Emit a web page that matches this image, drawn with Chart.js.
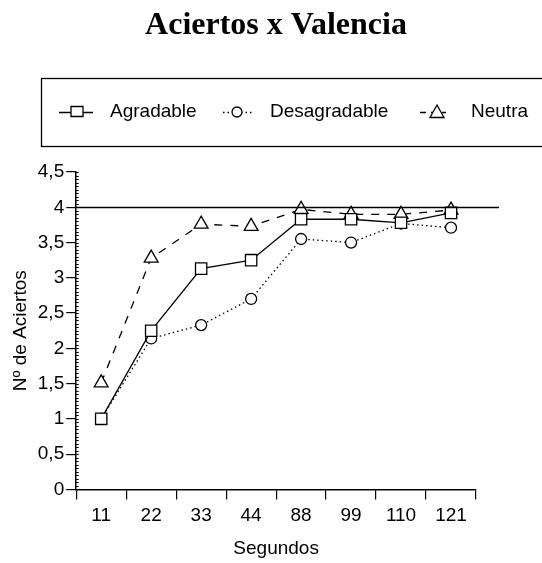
<!DOCTYPE html>
<html>
<head>
<meta charset="utf-8">
<script src="https://cdn.jsdelivr.net/npm/chart.js@4.4.1/dist/chart.umd.min.js"></script>
<style>
  html, body { margin: 0; padding: 0; background: #fff; }
  #wrap { width: 542px; height: 563px; position: relative; }
</style>
</head>
<body>
<div id="wrap"><canvas id="chart" width="542" height="563"></canvas></div>
<script>
  const segundos = ['11', '22', '33', '44', '88', '99', '110', '121'];
  const agradable = [1.0, 2.25, 3.13, 3.25, 3.83, 3.83, 3.78, 3.92];
  const desagradable = [1.0, 2.14, 2.33, 2.70, 3.55, 3.50, 3.77, 3.71];
  const neutra = [1.51, 3.28, 3.76, 3.73, 3.97, 3.90, 3.90, 3.96];
  const referencia = 4;
  const nombres = ['Agradable', 'Desagradable', 'Neutra'];
  const titulo = 'Aciertos x Valencia';

  const FONT = 'Liberation Sans';

  // legend drawn by hand: line sample + marker + name, inside a framed box
  function drawLegend(ctx) {
    ctx.save();
    ctx.strokeStyle = '#000';
    ctx.fillStyle = '#000';
    ctx.lineWidth = 1.3;
    ctx.strokeRect(41.5, 78.5, 520, 68);

    const cy = 112;
    const items = [
      { x0: 59, x1: 93, mx: 77, style: 'rect', dash: [] },
      { x0: 223, x1: 254, mx: 237, style: 'circle', dash: [1.5, 3] },
      { x0: 420, x1: 446, mx: 437, style: 'triangle', dash: [6, 5] }
    ];
    const textX = [110, 270, 471];
    items.forEach((it, i) => {
      ctx.setLineDash(it.dash);
      ctx.beginPath(); ctx.moveTo(it.x0, cy + 0.5); ctx.lineTo(it.x1, cy + 0.5); ctx.stroke();
      ctx.setLineDash([]);
      ctx.fillStyle = '#fff';
      ctx.beginPath();
      if (it.style === 'rect') ctx.rect(it.mx - 6, cy - 5.5, 12, 10);
      else if (it.style === 'circle') ctx.arc(it.mx, cy, 5, 0, Math.PI * 2);
      else { ctx.moveTo(it.mx, cy - 7); ctx.lineTo(it.mx + 7, cy + 5.5); ctx.lineTo(it.mx - 7, cy + 5.5); ctx.closePath(); }
      ctx.fill(); ctx.stroke();
      ctx.fillStyle = '#000';
      ctx.font = '19px "' + FONT + '"';
      ctx.textBaseline = 'middle';
      ctx.textAlign = 'left';
      ctx.fillText(nombres[i], textX[i], cy);
    });
    ctx.restore();
  }

  const extras = {
    id: 'extras',
    afterDraw(chart) {
      const ctx = chart.ctx;
      const y = chart.scales.y;
      const area = chart.chartArea;
      ctx.save();
      // title, centred on the page rather than on the plot
      ctx.fillStyle = '#000';
      ctx.font = 'bold 32px "Liberation Serif"';
      ctx.textAlign = 'center';
      ctx.textBaseline = 'alphabetic';
      ctx.fillText(titulo, 276, 34);
      // reference line at 4
      ctx.strokeStyle = '#000';
      ctx.lineWidth = 1.4;
      const py = Math.round(y.getPixelForValue(referencia)) + 0.5;
      ctx.beginPath(); ctx.moveTo(area.left, py); ctx.lineTo(area.right + 23, py); ctx.stroke();
      // minor ticks along the y axis
      ctx.lineWidth = 1;
      for (let k = 0; k <= 90; k++) {
        const p = Math.round(y.getPixelForValue(k * 0.05)) + 0.5;
        ctx.beginPath(); ctx.moveTo(area.left, p); ctx.lineTo(area.left + 2.5, p); ctx.stroke();
      }
      ctx.restore();
      drawLegend(ctx);
    }
  };

  const common = {
    borderColor: '#000',
    borderWidth: 1.3,
    pointBorderColor: '#000',
    pointBackgroundColor: '#fff',
    pointBorderWidth: 1.3,
    tension: 0,
    fill: false
  };

  new Chart(document.getElementById('chart'), {
    type: 'line',
    data: {
      labels: segundos,
      datasets: [
        Object.assign({}, common, { label: nombres[0], data: agradable, pointStyle: 'rect', pointRadius: 8 }),
        Object.assign({}, common, { label: nombres[1], data: desagradable, pointStyle: 'circle', pointRadius: 5.5, borderDash: [1.5, 3] }),
        Object.assign({}, common, { label: nombres[2], data: neutra, pointStyle: 'triangle', pointRadius: 8, borderDash: [8, 8] })
      ]
    },
    options: {
      responsive: false,
      animation: false,
      layout: { padding: { left: 9, right: 66, top: 172, bottom: 3 } },
      plugins: {
        title: { display: false },
        legend: { display: false },
        tooltip: { enabled: false }
      },
      scales: {
        x: {
          offset: true,
          grid: { offset: true, drawOnChartArea: false, tickLength: 10, color: '#000', lineWidth: 1.2 },
          border: { color: '#000', width: 1.5 },
          ticks: { color: '#000', font: { family: FONT, size: 19 }, padding: 5 },
          title: { display: true, text: 'Segundos', color: '#000', font: { family: FONT, size: 19 }, padding: { top: 5, bottom: 0 } }
        },
        y: {
          min: 0,
          max: 4.5,
          grid: { drawOnChartArea: false, tickLength: 10, color: '#000', lineWidth: 1.2 },
          border: { color: '#000', width: 1.5 },
          ticks: {
            stepSize: 0.5,
            color: '#000',
            font: { family: FONT, size: 19 },
            padding: 2,
            callback: v => String(v).replace('.', ',')
          },
          title: { display: true, text: 'Nº de Aciertos', color: '#000', font: { family: FONT, size: 19 }, padding: { top: 0, bottom: 4 } }
        }
      }
    },
    plugins: [extras]
  });
</script>
</body>
</html>
